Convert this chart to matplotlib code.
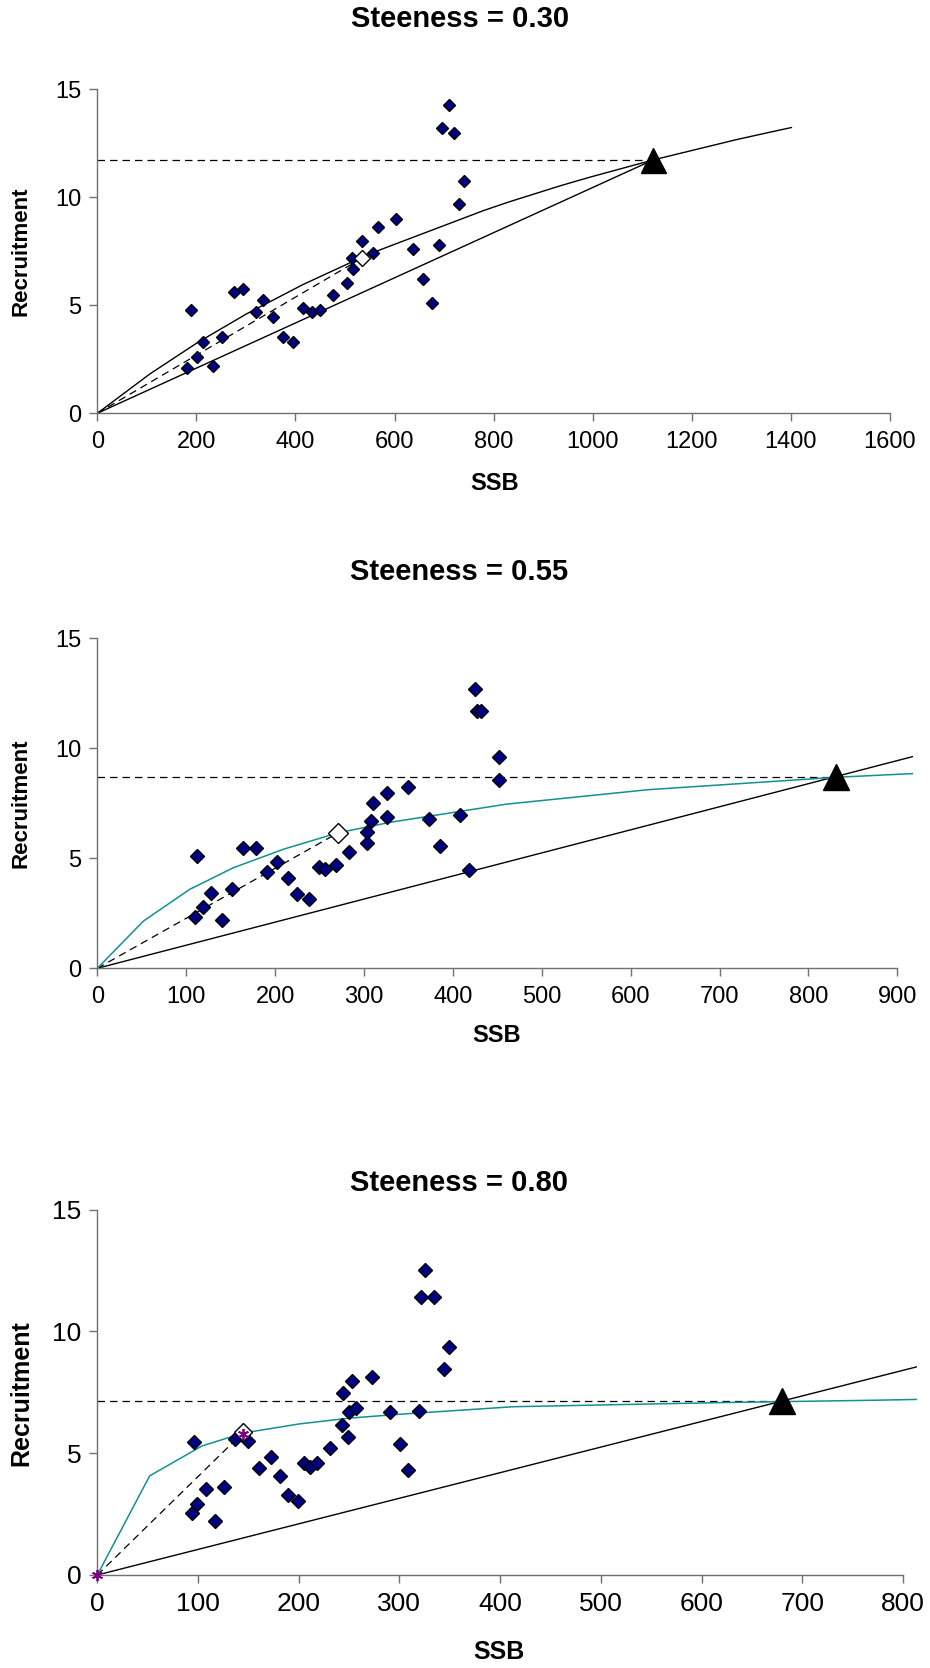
import matplotlib
matplotlib.use('Agg')
import matplotlib.pyplot as plt

plt.rcParams['font.family'] = ['Liberation Sans', 'DejaVu Sans']

# datos
ssb1 = [190, 214, 202, 182, 234, 251, 275, 295, 320, 335, 355, 375, 396, 416, 433, 449, 476,
        505, 517, 515, 534, 557, 566, 602, 638, 658, 675, 690, 695, 710, 720, 731, 740]
rec1 = [4.78, 3.32, 2.62, 2.08, 2.19, 3.55, 5.62, 5.77, 4.70, 5.25, 4.47, 3.55, 3.32, 4.86, 4.70, 4.78, 5.48,
        6.02, 6.68, 7.18, 7.99, 7.41, 8.61, 9.00, 7.62, 6.23, 5.09, 7.78, 13.22, 14.29, 12.99, 9.69, 10.77]
curve1_ssb = [0, 106, 202, 301, 416, 534, 571, 779, 830, 934, 994, 1122, 1290, 1351, 1401]
curve1_rec = [0, 1.82, 3.27, 4.60, 5.97, 7.22, 7.57, 9.38, 9.78, 10.53, 10.93, 11.73, 12.67, 12.98, 13.23]
repl1_ssb = [0, 1122]
repl1_rec = [0, 11.73]
eq1 = (1122, 11.73)
cur1 = (534, 7.18)

ssb2 = [112, 110, 119, 128, 140, 151, 164, 178, 191, 202, 215, 225, 238, 249, 256, 268, 283,
        303, 303, 308, 310, 326, 326, 350, 373, 386, 408, 418, 425, 427, 432, 452, 452]
rec2 = [5.10, 2.35, 2.77, 3.44, 2.20, 3.59, 5.47, 5.47, 4.39, 4.82, 4.09, 3.36, 3.14, 4.59, 4.51, 4.68, 5.27,
        5.71, 6.21, 6.71, 7.53, 6.86, 7.95, 8.25, 6.79, 5.56, 6.95, 4.47, 12.71, 11.70, 11.70, 9.59, 8.56]
curve2_ssb = [0, 52, 104, 153, 210, 271, 330, 460, 620, 830, 917]
curve2_rec = [0, 2.15, 3.59, 4.57, 5.42, 6.16, 6.64, 7.46, 8.12, 8.68, 8.85]
repl2_ssb = [0, 917]
repl2_rec = [0, 9.62]
eq2 = (831, 8.70)
cur2 = (271, 6.16)

ssb3 = [96, 94, 99, 108, 117, 126, 137, 150, 161, 172, 181, 189, 199, 205, 211, 218, 231,
        243, 249, 250, 257, 244, 253, 273, 291, 301, 309, 319, 325, 321, 334, 349, 344]
rec3 = [5.45, 2.53, 2.92, 3.53, 2.22, 3.60, 5.57, 5.50, 4.38, 4.83, 4.07, 3.29, 3.05, 4.61, 4.42, 4.61, 5.23,
        6.16, 5.68, 6.68, 6.85, 7.46, 7.97, 8.14, 6.68, 5.37, 4.31, 6.75, 12.53, 11.43, 11.43, 9.38, 8.45]
curve3_ssb = [0, 52, 104, 145, 200, 250, 300, 413, 620, 777, 814]
curve3_rec = [0, 4.07, 5.30, 5.83, 6.20, 6.44, 6.60, 6.91, 7.08, 7.18, 7.21]
repl3_ssb = [0, 814]
repl3_rec = [0, 8.55]
eq3 = (680, 7.13)
cur3 = (145, 5.86)
star3_ssb = [0, 145]
star3_rec = [0, 5.80]

W, H = 930, 1668
fig = plt.figure(figsize=(W / 100, H / 100), dpi=100)


def make_axes(left, bottom, right, top):
  return fig.add_axes([left / W, 1 - bottom / H, (right - left) / W, (bottom - top) / H])


def style(ax, xmax, xend, xstep, fs):
  ax.set_xlim(0, xmax)
  ax.set_ylim(0, 15)
  ax.set_xticks(range(0, xend + 1, xstep))
  ax.set_yticks([0, 5, 10, 15])
  for s in ['top', 'right']:
    ax.spines[s].set_visible(False)
  for s in ['left', 'bottom']:
    ax.spines[s].set_color('#707070')
    ax.spines[s].set_linewidth(1.0)
  ax.spines['bottom'].set_bounds(0, xend)
  ax.tick_params(axis='both', direction='out', length=5.5, width=1.0, color='#707070', labelsize=fs)
  ax.tick_params(axis='x', pad=7)
  ax.tick_params(axis='y', pad=6)


dash = (0, (6, 4))

# panel 1
ax1 = make_axes(97.3, 413.3, 890, 89.3)
style(ax1, 1600, 1600, 200, 17)
ax1.plot([0, eq1[0]], [eq1[1], eq1[1]], color='black', lw=0.9, ls=dash)
ax1.plot([0, cur1[0]], [0, cur1[1]], color='black', lw=0.9, ls=dash)
ax1.plot(curve1_ssb, curve1_rec, color='black', lw=1.0)
ax1.plot(repl1_ssb, repl1_rec, color='black', lw=1.0)
ax1.plot(ssb1, rec1, ls='none', marker='D', ms=6.3, mfc='#000080', mec='black', mew=1.0, zorder=4)
ax1.plot(*cur1, marker='D', ms=8.5, mfc='white', mec='black', mew=1.0, zorder=5)
ax1.plot(*eq1, marker='^', ms=18, color='black', zorder=5, clip_on=False)

# panel 2
ax2 = make_axes(97.3, 968.3, 912.5, 638.3)
style(ax2, 917, 900, 100, 17)
ax2.plot([0, eq2[0]], [eq2[1], eq2[1]], color='black', lw=0.9, ls=dash)
ax2.plot([0, cur2[0]], [0, cur2[1]], color='black', lw=0.9, ls=dash)
ax2.plot(repl2_ssb, repl2_rec, color='black', lw=1.0)
ax2.plot(curve2_ssb, curve2_rec, color='#119191', lw=1.1)
ax2.plot(ssb2, rec2, ls='none', marker='D', ms=6.8, mfc='#000080', mec='black', mew=1.0, zorder=4)
ax2.plot(*cur2, marker='D', ms=10.5, mfc='white', mec='black', mew=1.0, zorder=5)
ax2.plot(*eq2, marker='^', ms=18.5, color='black', zorder=5, clip_on=False)

# panel 3
ax3 = make_axes(97.3, 1575, 917, 1209.7)
style(ax3, 814, 800, 100, 19)
ax3.plot([0, eq3[0]], [eq3[1], eq3[1]], color='black', lw=0.9, ls=dash)
ax3.plot([0, cur3[0]], [0, cur3[1]], color='black', lw=0.9, ls=dash)
ax3.plot(repl3_ssb, repl3_rec, color='black', lw=1.0)
ax3.plot(curve3_ssb, curve3_rec, color='#119191', lw=1.1)
ax3.plot(ssb3, rec3, ls='none', marker='D', ms=7.2, mfc='#000080', mec='black', mew=1.0, zorder=4)
ax3.plot(*cur3, marker='D', ms=9, mfc='white', mec='black', mew=1.0, zorder=5)
ax3.plot(star3_ssb, star3_rec, ls='none', marker=(6, 2, 0), ms=8, color='#800080', mew=1.3, zorder=6,
         clip_on=False)
ax3.plot(*eq3, marker='^', ms=18.5, color='black', zorder=5, clip_on=False)

# textos
def ftext(x, y, s, **kw):
  fig.text(x / W, 1 - y / H, s, ha='center', va='center', fontweight='bold', **kw)

ftext(460, 19, 'Steeness = 0.30', fontsize=21)
ftext(459, 572, 'Steeness = 0.55', fontsize=21)
ftext(459, 1183, 'Steeness = 0.80', fontsize=21)

ftext(21, 251, 'Recruitment', fontsize=16, rotation=90)
ftext(21, 803, 'Recruitment', fontsize=16, rotation=90)
ftext(21, 1393, 'Recruitment', fontsize=18, rotation=90)

ftext(495, 483, 'SSB', fontsize=17)
ftext(497, 1036, 'SSB', fontsize=17)
ftext(499, 1652, 'SSB', fontsize=18)

plt.savefig('out.png', dpi=100)
plt.close()
